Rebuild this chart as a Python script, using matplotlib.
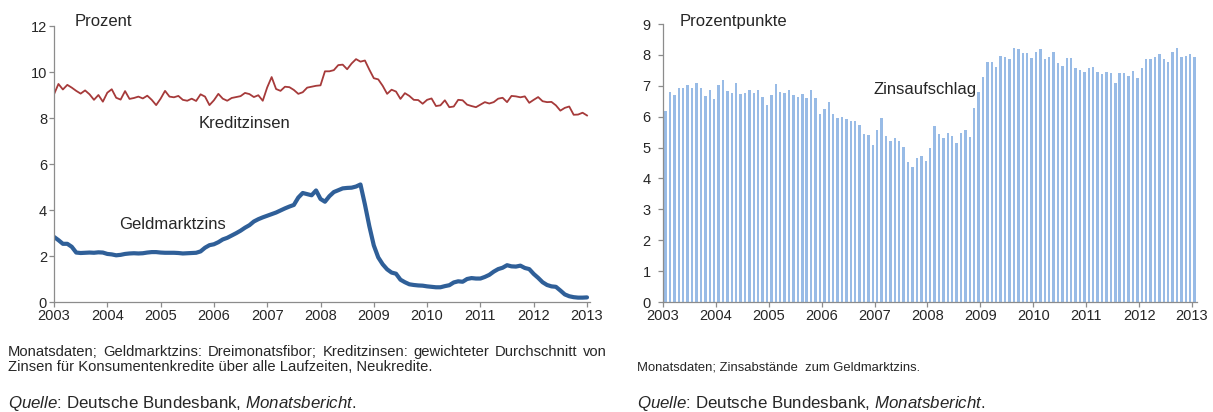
import matplotlib
matplotlib.use("Agg")
import matplotlib.pyplot as plt
import numpy as np

plt.rcParams['font.family'] = ['Liberation Sans', 'DejaVu Sans']
plt.rcParams['mathtext.fontset'] = 'custom'
plt.rcParams['mathtext.rm'] = 'Liberation Sans'
plt.rcParams['mathtext.it'] = 'Liberation Sans:italic'

# monthly data, Jan 2003 .. Jan 2013
geldmarktzins = [
    2.83, 2.69, 2.53, 2.53, 2.40, 2.15, 2.13, 2.14, 2.15, 2.14, 2.16, 2.15,
    2.09, 2.07, 2.03, 2.05, 2.09, 2.11, 2.12, 2.11, 2.12, 2.15, 2.17, 2.17,
    2.15, 2.14, 2.14, 2.14, 2.13, 2.11, 2.12, 2.13, 2.14, 2.20, 2.36, 2.47,
    2.51, 2.60, 2.72, 2.79, 2.89, 2.99, 3.10, 3.23, 3.34, 3.50, 3.60, 3.68,
    3.75, 3.82, 3.89, 3.98, 4.07, 4.15, 4.22, 4.54, 4.74, 4.69, 4.64, 4.85,
    4.48, 4.36, 4.60, 4.78, 4.86, 4.94, 4.96, 4.97, 5.02, 5.11, 4.24, 3.29,
    2.46, 1.94, 1.64, 1.42, 1.28, 1.23, 0.97, 0.86, 0.77, 0.74, 0.72, 0.71,
    0.68, 0.66, 0.64, 0.64, 0.69, 0.73, 0.85, 0.90, 0.88, 1.00, 1.04, 1.02,
    1.02, 1.09, 1.18, 1.32, 1.43, 1.49, 1.60, 1.55, 1.54, 1.58, 1.48, 1.43,
    1.22, 1.05, 0.86, 0.74, 0.68, 0.66, 0.50, 0.33, 0.25, 0.21, 0.19, 0.19,
    0.20,
]

kreditzinsen = [
    9.03, 9.48, 9.24, 9.44, 9.32, 9.18, 9.06, 9.20, 9.03, 8.79, 9.00, 8.71,
    9.10, 9.25, 8.88, 8.80, 9.17, 8.83, 8.87, 8.93, 8.85, 8.97, 8.79, 8.56,
    8.84, 9.18, 8.93, 8.90, 8.96, 8.79, 8.75, 8.84, 8.74, 9.03, 8.93, 8.56,
    8.77, 9.05, 8.84, 8.75, 8.87, 8.91, 8.95, 9.09, 9.04, 8.91, 8.99, 8.75,
    9.33, 9.78, 9.26, 9.18, 9.36, 9.34, 9.22, 9.05, 9.12, 9.32, 9.36, 9.40,
    9.42, 10.03, 10.03, 10.08, 10.30, 10.32, 10.12, 10.37, 10.56, 10.45, 10.50, 10.10,
    9.73, 9.68, 9.40, 9.05, 9.23, 9.15, 8.83, 9.08, 8.96, 8.79, 8.78, 8.62,
    8.79, 8.85, 8.52, 8.55, 8.77, 8.47, 8.50, 8.79, 8.77, 8.58, 8.52, 8.47,
    8.58, 8.69, 8.63, 8.69, 8.84, 8.88, 8.69, 8.96, 8.94, 8.90, 8.94, 8.66,
    8.79, 8.91, 8.73, 8.69, 8.70, 8.55, 8.32, 8.44, 8.50, 8.14, 8.15, 8.23,
    8.11,
]

zinsaufschlag = [
    6.19, 6.79, 6.69, 6.92, 6.92, 7.02, 6.92, 7.08, 6.92, 6.66, 6.85, 6.56,
    7.02, 7.18, 6.82, 6.76, 7.08, 6.72, 6.76, 6.85, 6.76, 6.85, 6.63, 6.37,
    6.69, 7.05, 6.79, 6.76, 6.85, 6.69, 6.63, 6.72, 6.59, 6.85, 6.59, 6.10,
    6.26, 6.46, 6.10, 5.97, 6.00, 5.93, 5.87, 5.87, 5.74, 5.44, 5.41, 5.08,
    5.57, 5.97, 5.37, 5.21, 5.31, 5.21, 5.02, 4.52, 4.38, 4.65, 4.72, 4.55,
    4.97, 5.70, 5.44, 5.31, 5.47, 5.37, 5.15, 5.47, 5.57, 5.34, 6.29, 6.80,
    7.27, 7.77, 7.77, 7.61, 7.96, 7.93, 7.87, 8.23, 8.19, 8.06, 8.06, 7.90,
    8.09, 8.19, 7.87, 7.93, 8.09, 7.74, 7.64, 7.90, 7.90, 7.58, 7.51, 7.45,
    7.58, 7.61, 7.44, 7.37, 7.44, 7.40, 7.08, 7.40, 7.40, 7.31, 7.47, 7.24,
    7.58, 7.87, 7.87, 7.93, 8.03, 7.87, 7.77, 8.09, 8.23, 7.93, 7.96, 8.03,
    7.93,
]

years = list(range(2003, 2014))

W, H = 1213, 412
fig = plt.figure(figsize=(W / 100, H / 100), dpi=100)

def px(x, y):
    # pixel (from top-left) -> figure fraction
    return x / W, 1 - y / H

axis_col = '#8c8c8c'
text_col = '#262626'

def style_axis(ax, ypad):
    for s in ['top', 'right']:
        ax.spines[s].set_visible(False)
    for s in ['left', 'bottom']:
        ax.spines[s].set_color(axis_col)
        ax.spines[s].set_linewidth(0.9)
    ax.tick_params(axis='y', direction='out', length=3.5, width=0.9, color=axis_col,
                   labelsize=10.5, labelcolor=text_col, pad=ypad)
    ax.tick_params(axis='x', direction='out', length=3.5, width=0.9, color=axis_col,
                   labelsize=10.5, labelcolor=text_col, pad=1.5)
    ax.set_xticks(years)

# left: interest rates
ax1 = fig.add_axes([54 / W, (H - 302) / H, (590 - 54) / W, (302 - 26) / H])
t1 = 2003 + np.arange(len(kreditzinsen)) / 12
ax1.plot(t1, kreditzinsen, color='#a63a3a', lw=1.3, solid_joinstyle='round')
ax1.plot(t1, geldmarktzins, color='#2f5f98', lw=3.0, solid_joinstyle='round',
         solid_capstyle='round')
ax1.set_xlim(2003, 2003 + 536 / 53.3)
ax1.set_ylim(0, 12)
ax1.set_yticks(range(0, 13, 2))
style_axis(ax1, 1.5)

# right: spread bars
ax2 = fig.add_axes([663 / W, (H - 302) / H, (1197 - 663) / W, (302 - 24) / H])
t2 = 2003 + (np.arange(len(zinsaufschlag)) + 0.6) / 12
ax2.bar(t2, zinsaufschlag, width=0.55 / 12, color='#98bbe6', edgecolor='none')
ax2.set_xlim(2003, 2003 + 534 / 52.9)
ax2.set_ylim(0, 9)
ax2.set_yticks(range(0, 10))
style_axis(ax2, 5.5)

# labels inside charts
fs = 12
fig.text(*px(75, 26), 'Prozent', fontsize=fs, color=text_col, va='baseline')
fig.text(*px(199, 128), 'Kreditzinsen', fontsize=fs, color=text_col, va='baseline')
fig.text(*px(119, 229), 'Geldmarktzins', fontsize=fs, color=text_col, va='baseline')
fig.text(*px(680, 26), 'Prozentpunkte', fontsize=fs, color=text_col, va='baseline')
fig.text(*px(874, 94), 'Zinsaufschlag', fontsize=fs, color=text_col, va='baseline', zorder=5)

# notes
renderer = fig.canvas.get_renderer()

def justified(x0, x1, y, text, size):
    words = text.split()
    objs = [fig.text(0, 1 - y / H, w, fontsize=size, color=text_col, va='baseline')
            for w in words]
    widths = [o.get_window_extent(renderer).width for o in objs]
    gap = (x1 - x0 - sum(widths)) / (len(words) - 1)
    x = x0
    for o, w in zip(objs, widths):
        o.set_x(x / W)
        x += w + gap

nfs = 10.6
justified(8, 607, 356, 'Monatsdaten; Geldmarktzins: Dreimonatsfibor; Kreditzinsen: '
          'gewichteter Durchschnitt von', nfs)
fig.text(*px(8, 371), 'Zinsen für Konsumentenkredite über alle Laufzeiten, Neukredite.',
         fontsize=nfs, color=text_col, va='baseline')
fig.text(*px(637, 371), 'Monatsdaten; Zinsabstände  zum Geldmarktzins.',
         fontsize=9.4, color=text_col, va='baseline')

quelle = r'$\mathit{Quelle}$: Deutsche Bundesbank, $\mathit{Monatsbericht}$.'
fig.text(*px(8, 408), quelle, fontsize=12.2, color=text_col, va='baseline')
fig.text(*px(637, 408), quelle, fontsize=12.2, color=text_col, va='baseline')

fig.savefig('out.png', dpi=100, facecolor='white')
